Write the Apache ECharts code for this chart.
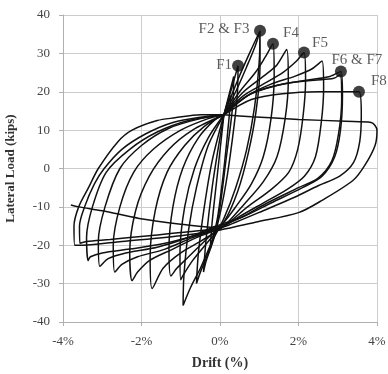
<!DOCTYPE html>
<html>
<head>
<meta charset="utf-8">
<script src="https://cdn.jsdelivr.net/npm/echarts@6/dist/echarts.min.js"></script>
<style>
  html, body { margin: 0; padding: 0; background: #fff; }
  #chart { width: 388px; height: 374px; }
</style>
</head>
<body>
<div id="chart"></div>
<script>
// drift (%) vs lateral load (kips), one closed loop per cycle
const cycle1 = [[0.1,14],[0.2,17],[0.28,19],[0.22,12],[0.1,0],[-0.05,-12],[-0.15,-17],[-0.25,-21],[-0.2,-14],[-0.05,0],[0.1,14]]
const cycle2 = [[0.1,14],[0.25,20],[0.35,24],[0.32,16],[0.15,2],[0,-10],[-0.15,-18],[-0.35,-24],[-0.42,-27],[-0.35,-18],[-0.2,-5],[-0.05,5],[0.1,14]]
const cycle3 = [[0.1,14],[0.3,21],[0.46,26.8],[0.44,19],[0.32,8],[0.15,-4],[-0.05,-14],[-0.3,-22],[-0.5,-27],[-0.6,-30],[-0.55,-22],[-0.4,-10],[-0.2,2],[0.1,14]]
const cycle4 = [[0.1,14],[0.45,23],[0.75,30],[1.02,35.9],[1.0,28],[0.88,16],[0.68,5],[0.4,-5],[0.1,-13],[-0.2,-19],[-0.5,-26],[-0.75,-31],[-0.94,-35.7],[-0.92,-28],[-0.8,-16],[-0.6,-5],[-0.3,6],[0.1,14]]
const cycle5 = [[0.1,14],[0.4,20],[0.7,27],[0.9,32],[1.0,35],[1.02,27],[0.92,15],[0.72,4],[0.45,-6],[0.1,-14],[-0.3,-19],[-0.7,-24],[-0.95,-28],[-1.0,-29],[-1.02,-22],[-0.9,-10],[-0.65,0],[-0.3,8],[0.1,14]]
const cycle6 = [[0.1,14],[0.5,20],[0.9,25],[1.15,29],[1.35,32.5],[1.38,24],[1.3,13],[1.1,3],[0.8,-4],[0.4,-10],[0.1,-14],[-0.4,-19],[-0.8,-23],[-1.1,-26],[-1.25,-28],[-1.3,-21],[-1.2,-10],[-0.95,0],[-0.55,8],[-0.1,13],[0.1,14]]
const cycle7 = [[0.1,14],[0.6,20],[1.1,24],[1.45,27],[1.7,31],[1.74,23],[1.66,13],[1.45,3],[1.1,-3.5],[0.6,-9.5],[0.1,-15],[-0.5,-19],[-1.0,-22],[-1.45,-26],[-1.73,-31.3],[-1.78,-23],[-1.65,-11],[-1.35,-1],[-0.9,6],[-0.4,11],[0.1,14]]
const cycle8 = [[0.1,14],[0.6,19],[1.1,22],[1.6,25],[1.95,28],[2.14,30.2],[2.18,23],[2.12,14],[1.98,5],[1.75,-1],[1.3,-5.5],[0.7,-10],[0.1,-15],[-0.6,-18],[-1.2,-21],[-1.8,-24],[-2.1,-27],[-2.24,-29.2],[-2.3,-22],[-2.15,-11],[-1.8,-2],[-1.3,5],[-0.7,10],[0.1,14]]
const cycle9 = [[0.1,14],[0.7,19],[1.3,22],[1.9,24],[2.35,26],[2.6,28],[2.64,21],[2.58,12],[2.43,3],[2.15,-2],[1.7,-5.5],[1.1,-9],[0.5,-12.5],[0.1,-15],[-0.7,-18],[-1.4,-21],[-2.1,-23],[-2.5,-25],[-2.68,-27],[-2.72,-20],[-2.55,-10],[-2.2,-1],[-1.7,5],[-1.0,10],[-0.3,13],[0.1,14]]
const cycle10 = [[0.1,14],[0.7,19],[1.4,21.5],[2.2,23],[2.8,24],[3.08,25.3],[3.12,19],[3.07,10],[2.92,3],[2.6,-2],[2.1,-5],[1.3,-9],[0.6,-12.5],[-0.1,-15],[-0.8,-18],[-1.6,-20.5],[-2.4,-22],[-2.85,-23.5],[-3.06,-25.5],[-3.1,-19],[-2.93,-10],[-2.55,0],[-2.0,6],[-1.3,10.5],[-0.5,13],[0.1,14]]
const cycle11 = [[0.1,14],[0.8,19.5],[1.6,22],[2.4,23],[2.9,23.5],[3.06,24.5],[3.1,18],[3.02,9],[2.85,2],[2.5,-2.5],[2.0,-5],[1.2,-9],[0.5,-13],[0,-15],[-0.5,-17],[-1.4,-19.5],[-2.3,-21],[-3.0,-22],[-3.3,-23],[-3.36,-24],[-3.4,-18],[-3.25,-10],[-2.9,-1],[-2.3,5],[-1.6,9.5],[-0.8,12.5],[0.1,14]]
const cycle12 = [[0.1,14],[0.8,18],[1.6,19.5],[2.5,20],[3.2,20],[3.54,20],[3.6,14],[3.56,7],[3.4,1.5],[3.05,-2],[2.5,-4.5],[1.9,-7.5],[1.1,-11],[0.4,-14],[0,-15.5],[-0.8,-16.5],[-1.8,-17.5],[-2.8,-18.5],[-3.4,-19],[-3.57,-19.5],[-3.58,-15],[-3.45,-10],[-3.2,-4],[-2.95,0],[-2.5,5],[-1.9,9],[-1.2,12],[-0.4,13.5],[0.1,14]]
const cycle13 = [[0.1,14],[0.8,13.5],[2.0,12.8],[3.2,12.3],[3.85,12],[4.0,10],[3.95,6],[3.7,1],[3.4,-3],[2.6,-8.3],[2.0,-11.5],[0.9,-14],[0,-16],[-1.0,-17.5],[-2.5,-19],[-3.5,-20],[-3.7,-20],[-3.72,-15],[-3.6,-10],[-3.35,-5],[-3.1,0],[-2.6,7],[-2.24,10],[-1.6,12.5],[-1.15,13.2],[-0.5,14],[0.1,14]]
const tail = [[0,-15.5],[-1.0,-14.5],[-2.06,-13],[-3.0,-11],[-3.6,-10],[-3.8,-9.5]]

const cycles = [cycle1, cycle2, cycle3, cycle4, cycle5, cycle6, cycle7, cycle8, cycle9, cycle10, cycle11, cycle12, cycle13, tail]

// failure points
const markNames = ['F1', 'F2 & F3', 'F4', 'F5', 'F6 & F7', 'F8']
const markDrift = [0.46, 1.02, 1.35, 2.14, 3.08, 3.54]
const markLoad = [26.8, 35.9, 32.5, 30.2, 25.3, 20]

const xTicks = [-4, -2, 0, 2, 4]
const yTicks = [-40, -30, -20, -10, 0, 10, 20, 30, 40]

// label nudges (px) for each failure point
const labelOffset = {
  'F1': [-14, -1],
  'F2 & F3': [-36, -2],
  'F4': [18, -11],
  'F5': [16, -10],
  'F6 & F7': [16, -11],
  'F8': [20, -11],
}

const serif = '"Liberation Serif", "DejaVu Serif", serif'
const chart = echarts.init(document.getElementById('chart'))

const lineSeries = cycles.map((c) => ({
  type: 'line',
  data: c,
  smooth: 0.3,
  symbol: 'none',
  lineStyle: { color: '#111', width: 1.5 },
  silent: true,
  z: 2,
}))

chart.setOption({
  animation: false,
  grid: { left: 63, right: 11, top: 15, bottom: 52, outerBoundsMode: 'none' },
  xAxis: {
    type: 'value',
    min: xTicks[0],
    max: xTicks[xTicks.length - 1],
    interval: 2,
    name: 'Drift (%)',
    nameLocation: 'middle',
    nameGap: 34,
    nameTextStyle: { fontFamily: serif, fontWeight: 'bold', fontSize: 14, color: '#333' },
    axisLine: { onZero: false, lineStyle: { color: '#b0b0b0' } },
    axisTick: { show: true, length: 4, lineStyle: { color: '#b0b0b0' } },
    axisLabel: { formatter: (v) => v + '%', fontFamily: serif, fontSize: 13, color: '#444', margin: 13 },
    splitLine: { lineStyle: { color: '#cccccc' } },
  },
  yAxis: {
    type: 'value',
    min: yTicks[0],
    max: yTicks[yTicks.length - 1],
    interval: 10,
    name: 'Lateral Load (kips)',
    nameLocation: 'middle',
    nameGap: 46,
    nameTextStyle: { fontFamily: serif, fontWeight: 'bold', fontSize: 13, color: '#333' },
    axisLine: { show: true, onZero: false, lineStyle: { color: '#b0b0b0' } },
    axisTick: { show: true, length: 4, lineStyle: { color: '#b0b0b0' } },
    axisLabel: { fontFamily: serif, fontSize: 13, color: '#444', margin: 13 },
    splitLine: { lineStyle: { color: '#cccccc' } },
  },
  series: [
    ...lineSeries,
    {
      type: 'scatter',
      data: markNames.map((n, i) => ({
        name: n,
        value: [markDrift[i], markLoad[i]],
        label: { offset: labelOffset[n] },
      })),
      symbolSize: 12,
      itemStyle: { color: '#111' },
      label: {
        show: true,
        position: 'inside',
        formatter: (p) => p.name,
        fontFamily: serif,
        fontSize: 15,
        color: '#333',
      },
      z: 5,
    },
  ],
})
</script>
</body>
</html>
